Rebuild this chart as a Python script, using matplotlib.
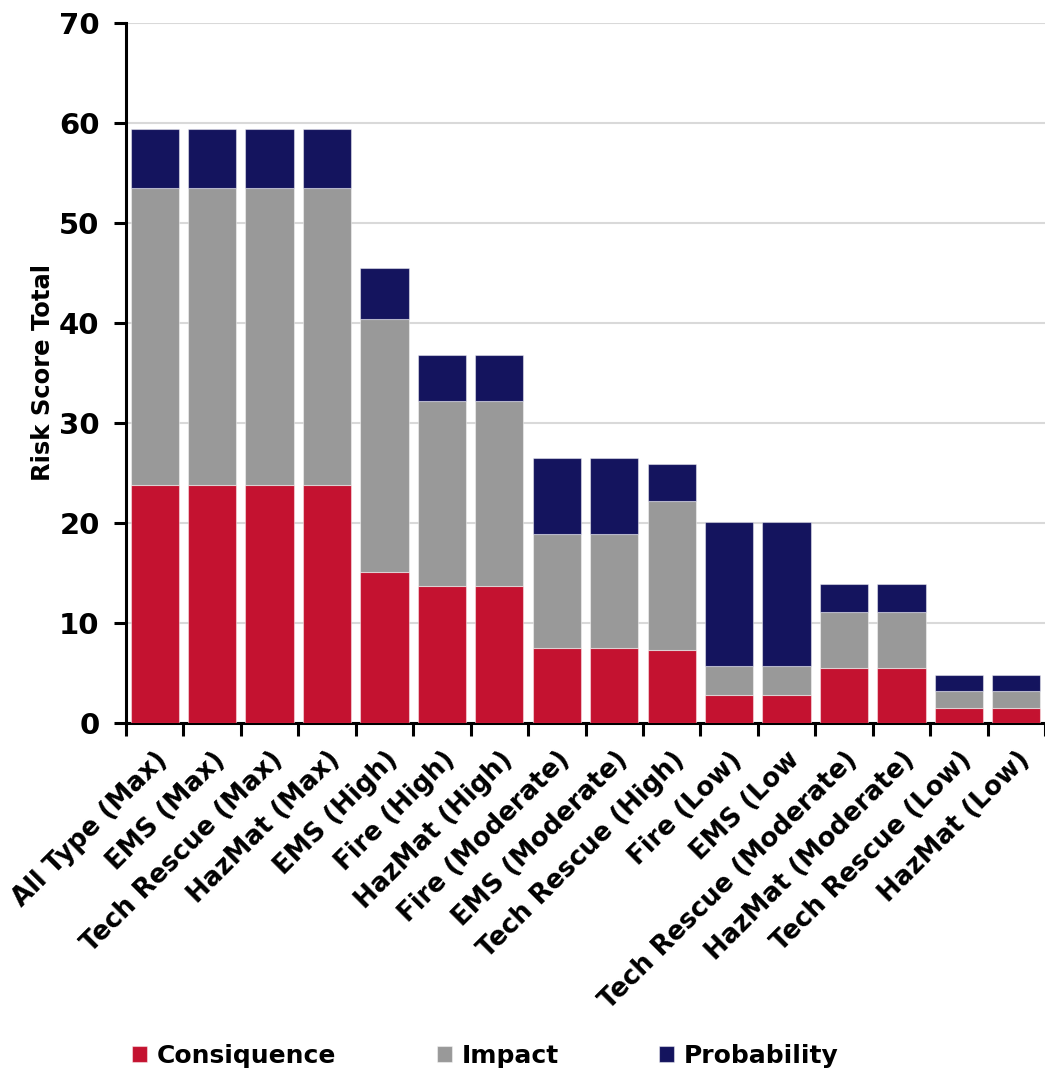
import matplotlib
matplotlib.use("Agg")
import matplotlib.pyplot as plt
import numpy as np

categories = [
    "All Type (Max)", "EMS (Max)", "Tech Rescue (Max)", "HazMat (Max)",
    "EMS (High)", "Fire (High)", "HazMat (High)", "Fire (Moderate)",
    "EMS (Moderate)", "Tech Rescue (High)", "Fire (Low)", "EMS (Low",
    "Tech Rescue (Moderate)", "HazMat (Moderate)", "Tech Rescue (Low)", "HazMat (Low)",
]
consiquence = [23.8, 23.8, 23.8, 23.8, 15.1, 13.7, 13.7, 7.5, 7.5, 7.3, 2.8, 2.8, 5.5, 5.5, 1.5, 1.5]
impact = [29.7, 29.7, 29.7, 29.7, 25.3, 18.5, 18.5, 11.4, 11.4, 14.9, 2.9, 2.9, 5.6, 5.6, 1.7, 1.7]
probability = [5.9, 5.9, 5.9, 5.9, 5.1, 4.6, 4.6, 7.6, 7.6, 3.7, 14.4, 14.4, 2.8, 2.8, 1.6, 1.6]

series_names = ["Consiquence", "Impact", "Probability"]
colors = ["#C41230", "#999999", "#14145E"]
y_ticks = [0, 10, 20, 30, 40, 50, 60, 70]

plt.rcParams["font.family"] = ["DejaVu Sans"]
plt.rcParams["font.weight"] = "bold"

fig = plt.figure(figsize=(10.45, 10.68), dpi=100)
ax = fig.add_axes([0.1206, 0.323, 0.8794, 0.6555])

x = np.arange(len(categories))
bottom = np.zeros(len(categories))
for vals, name, col in zip([consiquence, impact, probability], series_names, colors):
    ax.bar(x, vals, width=0.84, bottom=bottom, color=col, label=name,
           edgecolor=(1, 1, 1, 0.45), linewidth=0.8, zorder=3)
    bottom += np.array(vals)

ax.set_xlim(-0.5, len(categories) - 0.5)
ax.set_ylim(0, 70)
ax.set_yticks(y_ticks)
ax.yaxis.grid(True, color="#d9d9d9", linewidth=1.5, zorder=0)
ax.set_axisbelow(True)

for s in ["top", "right"]:
    ax.spines[s].set_visible(False)
ax.spines["left"].set_linewidth(2.2)
ax.spines["bottom"].set_linewidth(2.2)

ax.tick_params(axis="y", length=9, width=2.2, labelsize=21, pad=10)
ax.set_xticks(x)
ax.set_xticklabels(categories, rotation=45, ha="right", rotation_mode="anchor",
                   fontsize=18.7, fontweight="bold")
ax.tick_params(axis="x", which="major", length=0, pad=17)
ax.set_xticks(np.arange(-0.5, len(categories), 1.0), minor=True)
ax.tick_params(axis="x", which="minor", length=9, width=2.2, direction="out")

ax.set_ylabel("Risk Score Total", fontsize=17.5, fontweight="bold", labelpad=3)

fig.legend(loc="lower left", bbox_to_anchor=(0.105, -0.021), ncol=3, frameon=False,
           handlelength=0.6, handleheight=0.6, handletextpad=0.4,
           columnspacing=4.0, prop={"weight": "bold", "size": 18})

fig.savefig("out.png", dpi=100)
